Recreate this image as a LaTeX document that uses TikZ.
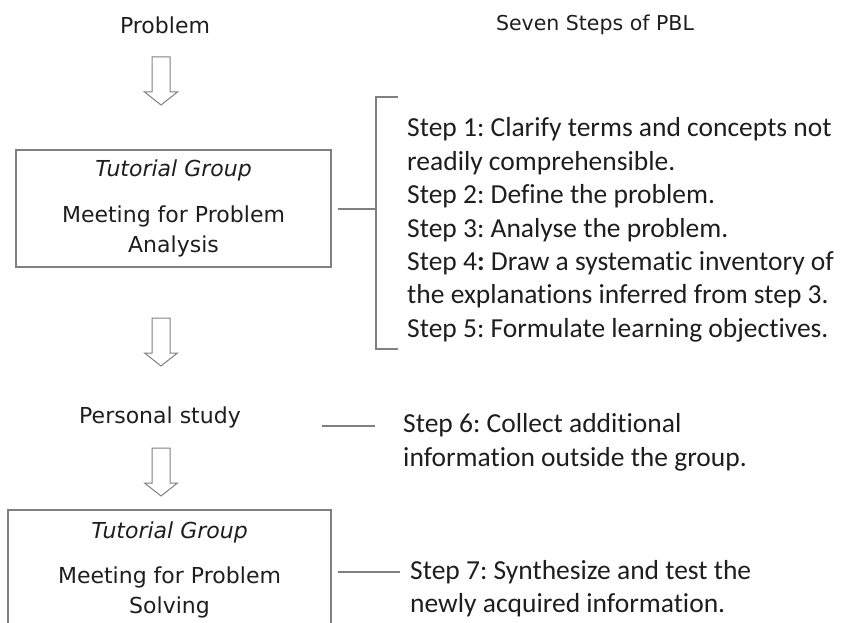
\documentclass[tikz,border=0pt]{standalone}
\usepackage{fontspec}
\setmainfont{DejaVu Sans}
\newfontfamily\calfont[Ligatures=NoCommon]{Carlito}
\definecolor{linegray}{HTML}{808080}
\definecolor{txt}{HTML}{1E1E1E}
\frenchspacing
\begin{document}
\begin{tikzpicture}[x=1pt,y=-1pt,
  lefttext/.style={font=\fontsize{22}{30}\selectfont, text=txt, inner sep=0pt},
  titletext/.style={font=\fontsize{20.5}{24}\selectfont, text=txt, inner sep=0pt},
  steptext/.style={font=\calfont\fontsize{27.5}{33.4}\selectfont, text=txt, inner sep=0pt, align=left, anchor=west},
  groupbox/.style={draw=linegray, line width=1.1pt, rectangle, inner sep=0pt, align=center, lefttext},
  conn/.style={draw=linegray, line width=1.1pt},
  hollowarrow/.pic={\draw[linegray, line width=1pt, fill=white]
     (-9,0) -- (9,0) -- (9,35) -- (16.5,35) -- (0,48) -- (-16.5,35) -- (-9,35) -- cycle;}
]
\useasboundingbox (0,0) rectangle (846,623);

\node[lefttext] (problem) at (165,25) {Problem};
\node[titletext] (seven) at (595,25) {Seven Steps of PBL};

\pic at (161,57) {hollowarrow};

\node[groupbox, minimum width=315pt, minimum height=117pt] (b1) at (173.5,208.5)
  {\textit{Tutorial Group}\\[16pt]Meeting for Problem\\Analysis};

\pic at (161,318) {hollowarrow};

\node[lefttext] (ps) at (160,417) {Personal study};

\pic at (161,448) {hollowarrow};

\node[groupbox, minimum width=323pt, minimum height=119pt] (b2) at (169.5,569.5)
  {\textit{Tutorial Group}\\[15pt]Meeting for Problem\\Solving};

% steps 1-5
\node[steptext] (s15) at (407,230)
  {Step 1: Clarify terms and concepts not\\
   readily comprehensible.\\
   Step 2: Define the problem.\\
   Step 3: Analyse the problem.\\
   Step 4\textbf{:} Draw a systematic inventory of\\
   the explanations inferred from step 3.\\
   Step 5: Formulate learning objectives.};
\node[steptext] (s6) at (403,442.5)
  {Step 6: Collect additional\\information outside the group.};
\node[steptext] (s7) at (410,588.5)
  {Step 7: Synthesize and test the\\newly acquired information.};

% bracket and connectors
\coordinate (bt) at (398,97);
\coordinate (bb) at (398,349);
\coordinate (bm) at (376,209);
\draw[conn] (bt) -- (376,97) -- (376,349) -- (bb);
\draw[conn] ([xshift=6pt]b1.east |- bm) -- (bm);
\coordinate (c6a) at (322,426);
\coordinate (c6b) at (375,426);
\draw[conn] (c6a) -- (c6b);
\coordinate (c7b) at (400,572);
\draw[conn] ([xshift=6pt]b2.east |- c7b) -- (c7b);
\end{tikzpicture}
\end{document}
